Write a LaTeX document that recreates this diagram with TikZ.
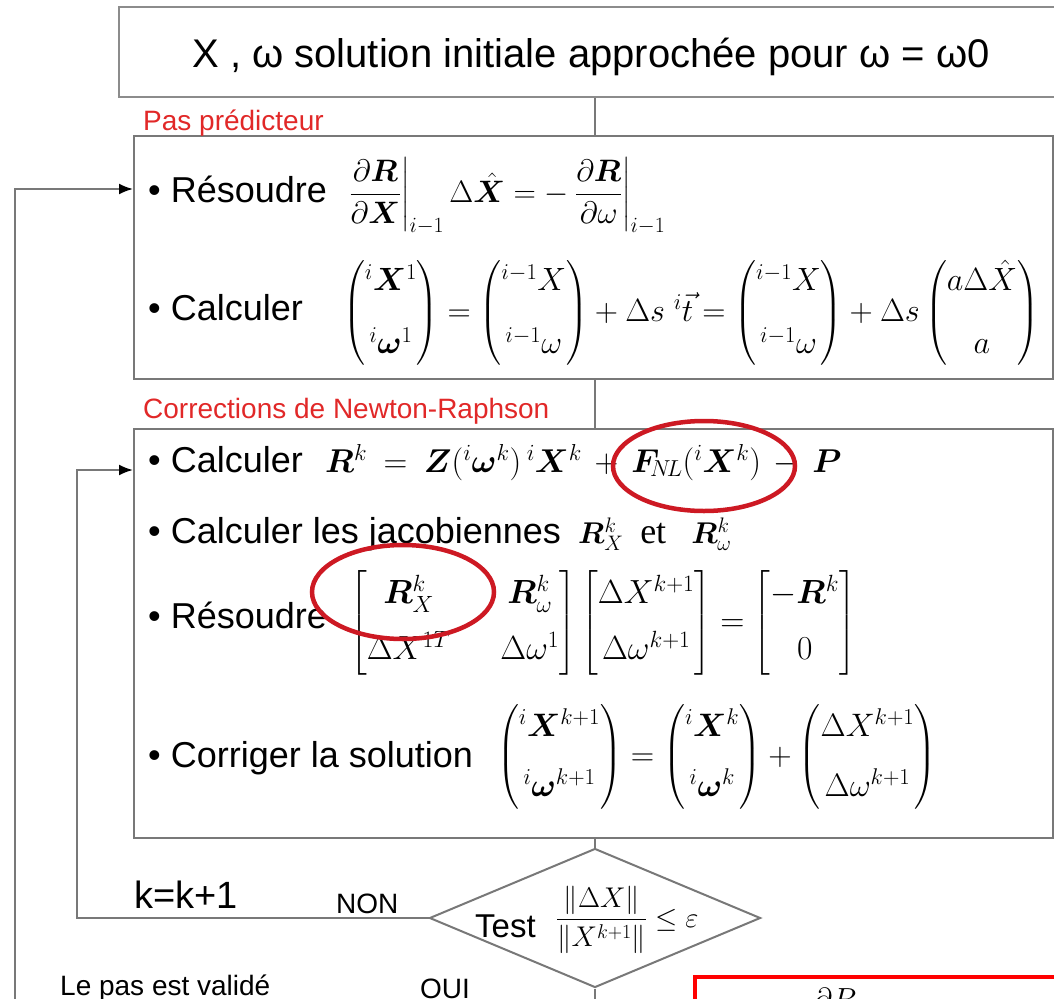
\documentclass[tikz,border=0pt]{standalone}
\usepackage{fix-cm}
\usepackage{amsmath}
\usepackage{bm}
\usepackage[no-math]{fontspec}
\setmainfont{Liberation Sans}
\newfontfamily\serifet{Liberation Serif}
\usetikzlibrary{shapes.geometric,arrows.meta}
\definecolor{linegray}{RGB}{120,120,120}
\definecolor{boxgray}{RGB}{120,120,120}
\definecolor{labelred}{RGB}{225,40,40}
\definecolor{ellred}{RGB}{205,25,35}
\begin{document}
\begin{tikzpicture}[x=1pt,y=-1pt,
  box/.style={draw=boxgray, line width=2pt, inner sep=0pt, anchor=north west},
  conn/.style={draw=linegray, line width=2pt},
  arr/.style={conn, -{Latex[length=14pt,width=11pt,color=black]}},
  body/.style={font=\fontsize{36}{40}\selectfont, inner sep=0pt, anchor=base west},
  mathn/.style={font=\fontsize{32}{48}\selectfont, inner sep=0pt, anchor=west},
  small/.style={font=\fontsize{28}{30}\selectfont, inner sep=0pt, anchor=base west},
  redlabel/.style={small, text=labelred},
  hl/.style={ellipse, draw=ellred, line width=4.5pt, inner sep=0pt}]
\clip (0,0) rectangle (1054,998);
% boxes
\node[box, draw=gray!90, minimum width=980pt, minimum height=90pt] (init) at (118,6) {};
\node[box, minimum width=919pt, minimum height=243pt] (pred) at (133,135) {};
\node[box, minimum width=919pt, minimum height=409pt] (nr) at (133,428) {};
\node[diamond, draw=boxgray, line width=2pt, minimum width=331pt, minimum height=139pt, inner sep=0pt] (dec) at (595,918) {};
\node[draw=red, line width=3.5pt, anchor=north west, minimum width=420pt, minimum height=100pt] (nextbox) at (693,975) {};
% title
\node[font=\fontsize{40}{44}\selectfont, inner sep=0pt, anchor=base] (title) at (591,67) {X , ω solution initiale approchée pour ω = ω0};
% labels
\node[redlabel] (lblpred) at (143,130) {Pas prédicteur};
\node[redlabel] (lblnr) at (143,418) {Corrections de Newton-Raphson};
% predictor
\node[body] (p1) at (148,202) {\textbullet\ Résoudre};
\node[mathn, font=\fontsize{31}{40}\selectfont] (p1m) at (348,196) {$\displaystyle \left.\frac{\partial\bm R}{\partial\bm X}\right|_{i-1}\Delta\hat{\bm X}=-\left.\frac{\partial\bm R}{\partial\omega}\right|_{i-1}$};
\node[body] (p2) at (148,320) {\textbullet\ Calculer};
\node[mathn, font=\fontsize{32.2}{46}\selectfont] (p2m) at (343,313) {$\begin{pmatrix}{}^{i}\bm X^{1}\\[17pt]{}^{i}\bm\omega^{1}\end{pmatrix}=\begin{pmatrix}{}^{i-1}X\\[17pt]{}^{i-1}\omega\end{pmatrix}+\Delta s\;{}^{i}\vec{t}=\begin{pmatrix}{}^{i-1}X\\[17pt]{}^{i-1}\omega\end{pmatrix}+\Delta s\begin{pmatrix}a\Delta\hat{X}\\[17pt]a\end{pmatrix}$};
% Newton-Raphson
\node[body] (n1) at (148,472) {\textbullet\ Calculer};
\node[mathn, anchor=base west, font=\fontsize{33}{40}\selectfont] (n1m) at (325,472) {$\thickmuskip=9mu\medmuskip=7mu\bm R^{k}=\bm Z({}^{i}\bm\omega^{k})\,{}^{i}\bm X^{k}+\bm F_{\!N\!L}({}^{i}\bm X^{k})-\bm P$};
\node[body] (n2) at (148,543) {\textbullet\ Calculer les jacobiennes};
\node[mathn, anchor=base west, font=\fontsize{30}{40}\selectfont] (n2m) at (578,543) {$\bm R_{X}^{k}$\ \ {\serifet\fontsize{36}{40}\selectfont et}\ \ \ $\bm R_{\omega}^{k}$};
\node[body] (n3) at (148,628) {\textbullet\ Résoudre};
\node[mathn, font=\fontsize{33.5}{44}\selectfont] (n3m) at (350,623) {$\setlength\arraycolsep{25pt}\begin{bmatrix}\bm R_{X}^{k}&\bm R_{\omega}^{k}\\[12pt]\Delta X^{1T}&\Delta\omega^{1}\end{bmatrix}\setlength\arraycolsep{9pt}\begin{bmatrix}\Delta X^{k+1}\\[12pt]\Delta\omega^{k+1}\end{bmatrix}=\begin{bmatrix}-\bm R^{k}\\[12pt]0\end{bmatrix}$};
\node[body] (n4) at (148,767) {\textbullet\ Corriger la solution};
\node[mathn, font=\fontsize{32.5}{46}\selectfont] (n4m) at (497,757) {$\begin{pmatrix}{}^{i}\bm X^{k+1}\\[14pt]{}^{i}\bm\omega^{k+1}\end{pmatrix}=\begin{pmatrix}{}^{i}\bm X^{k}\\[14pt]{}^{i}\bm\omega^{k}\end{pmatrix}+\begin{pmatrix}\Delta X^{k+1}\\[14pt]\Delta\omega^{k+1}\end{pmatrix}$};
% highlights
\node[hl, minimum width=182pt, minimum height=90pt] (hl1) at (704,466) {};
\node[hl, minimum width=182pt, minimum height=94pt] (hl2) at (403,592) {};
% decision text
\node[font=\fontsize{33}{36}\selectfont, inner sep=0pt, anchor=base west] (test) at (475,937) {Test};
\node[font=\fontsize{28.5}{32}\selectfont, inner sep=0pt, anchor=west] (testm) at (556,920) {$\dfrac{\|\Delta X\|}{\|X^{k+1}\|}\le\varepsilon$};
\node[font=\fontsize{38}{40}\selectfont, inner sep=0pt, anchor=base west] (kk) at (134,908) {k=k+1};
\node[small] (non) at (336,913) {NON};
\node[small] (valid) at (60,995) {Le pas est validé};
\node[small] (oui) at (420,998) {OUI};
\node[mathn, anchor=north] (dr) at (835,988) {$\partial R$};
% connectors
\coordinate (predin) at (133,189);
\coordinate (nrin) at (133,470);
\coordinate (loopx) at (77,918);
\coordinate (outx) at (15,1020);
\draw[conn] (dec.north |- init.south) -- (dec.north |- pred.north);
\draw[conn] (dec.north |- pred.south) -- (dec.north |- nr.north);
\draw[conn] (dec.north |- nr.south) -- (dec.north);
\draw[arr] (dec.west) -- (loopx) |- (nrin);
\draw[arr] (outx) |- (predin);
\draw[conn] (dec.south) -- ++(0,30);
\end{tikzpicture}
\end{document}
